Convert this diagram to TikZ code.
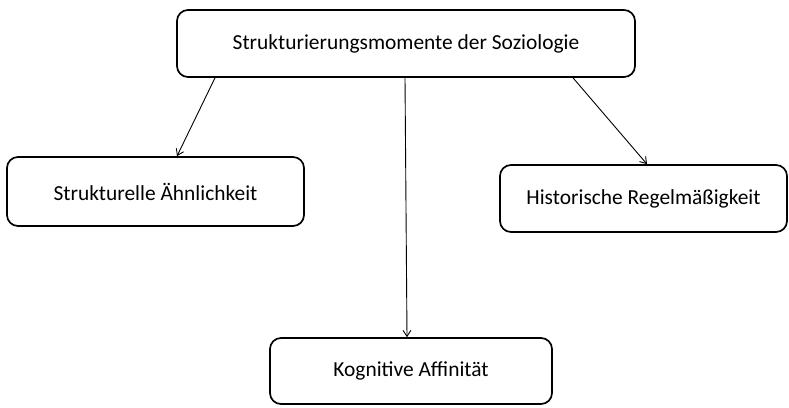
\documentclass[tikz,border=0pt]{standalone}
\usepackage{fontspec}
\setmainfont{Carlito}
\usetikzlibrary{arrows.meta}
\begin{document}
\begin{tikzpicture}[x=1bp,y=-1bp,
  box/.style={draw, line width=1.7bp, rounded corners=11bp, inner sep=0pt,
    font=\fontsize{21.5}{25}\selectfont},
  pfeil/.style={line width=0.9bp, -{Straight Barb[length=6bp,width=8bp]}}]
\useasboundingbox (0,0) rectangle (789,407);
\node[box, minimum width=458bp, minimum height=67bp] (top) at (406,43.5) {Strukturierungsmomente der Soziologie};
\node[box, minimum width=297bp, minimum height=69bp] (links) at (155.5,191.5) {Strukturelle Ähnlichkeit};
\node[box, minimum width=287bp, minimum height=67bp] (rechts) at (643.5,198.5) {Historische Regelmäßigkeit};
\node[box, minimum width=282bp, minimum height=66bp] (unten) at (411,371) {Kognitive Affinität};
\draw[pfeil] ([xshift=-191bp]top.south) -- ([xshift=21.5bp]links.north);
\draw[pfeil] ([xshift=-1bp]top.south) -- ([xshift=-4bp]unten.north);
\draw[pfeil] ([xshift=167bp]top.south) -- ([xshift=3.5bp]rechts.north);
\end{tikzpicture}
\end{document}
